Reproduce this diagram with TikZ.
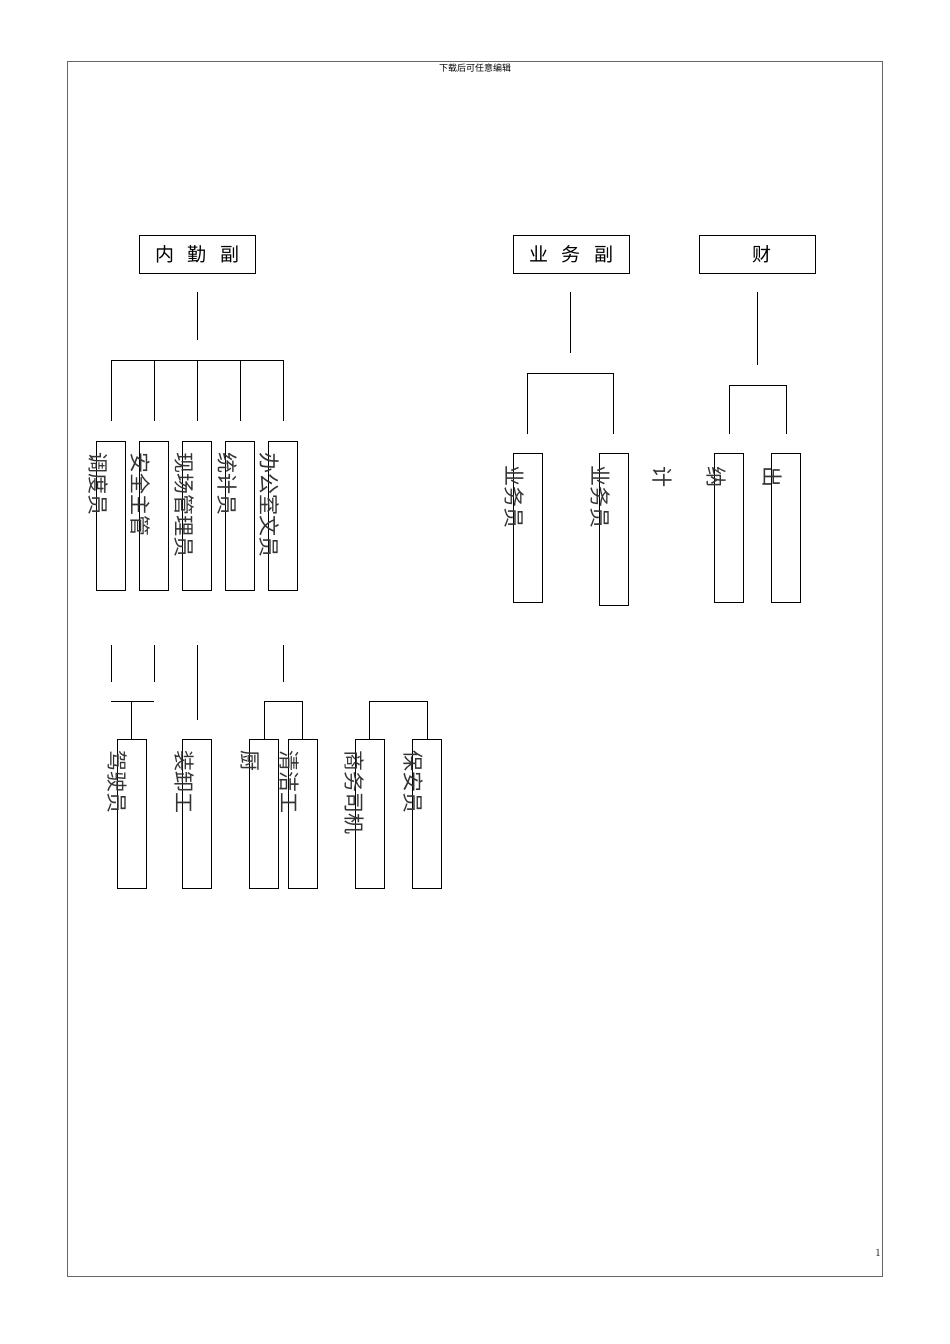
\documentclass[tikz,border=0pt]{standalone}
\usepackage{fontspec}
\newfontfamily\cjk{Noto Sans CJK SC}
\newfontfamily\cjkserif{Noto Sans CJK SC}
\begin{document}
\begin{tikzpicture}[x=1pt,y=-1pt,line width=1pt,
  box/.style={draw,minimum width=29pt,minimum height=149pt,inner sep=0,anchor=north west},
  topbox/.style={draw,minimum width=116pt,minimum height=38pt,inner sep=0,anchor=north west,font=\cjk\fontsize{19}{19}\selectfont},
  vt/.style={rotate=-90,anchor=west,inner sep=0,font=\cjk\fontsize{21}{21}\selectfont\addfontfeature{Color=333333}}]
\useasboundingbox (0,0) rectangle (950,1344);
\draw[line width=0.8pt,gray!80!black] (67,61) rectangle (882,1276);
\node[font=\fontsize{9}{9}\selectfont\cjk] (hdr) at (475,68) {下载后可任意编辑};
\node[font=\fontsize{11}{11}\selectfont] (pg) at (878,1253) {1};
% top boxes
\node[topbox] (nq) at (139,235) {内\hspace{0.7em}勤\hspace{0.7em}副};
\node[topbox] (yw) at (513,235) {业\hspace{0.7em}务\hspace{0.7em}副};
\node[topbox] (cai) at (699,235) {\hspace{0.5em}财};
% left tree
\coordinate (s1) at (197,292);\coordinate (s2) at (197,340);
\draw (s1)--(s2);
\draw (111,360)--(283,360);
\foreach \x in {111,154,197,240,283}{\draw (\x,360)--(\x,421);}
\foreach \x/\n in {96/a,139/b,182/c,225/d,268/e}{\node[box] (\n) at (\x,441) {};}
\node[vt] (ta) at (98,452) {调度员};
\node[vt] (tb) at (141,452) {安全主管};
\node[vt] (tc) at (184,452) {现场管理员};
\node[vt] (td) at (227,452) {统计员};
\node[vt] (te) at (270,452) {办公室文员};
\foreach \x in {111,154,283}{\draw (\x,645)--(\x,682);}
\draw (197,645)--(197,720);
\draw (111,701)--(154,701); \draw (131,701)--(131,739);
\node[box] (f) at (117,739) {};
\node[box] (g) at (182,739) {};
\node[box] (h) at (249,739) {};
\node[box] (i) at (288,739) {};
\node[box] (j) at (355,739) {};
\node[box] (k) at (412,739) {};
\node[vt] (tf) at (117,750) {驾驶员};
\node[vt] (tg) at (184,750) {装卸工};
\node[vt] (th) at (250,750) {厨};
\node[vt] (ti) at (289,750) {清洁工};
\node[vt] (tj) at (355,750) {商务司机};
\node[vt] (tk) at (413,750) {保安员};
\draw (264,739)--(264,701)--(302,701)--(302,739);
\draw (369,739)--(369,701)--(427,701)--(427,739);
% middle tree
\draw (570,292)--(570,353);
\draw (527,434)--(527,373)--(613,373)--(613,434);
\node[box] (l) at (513,453) {};
\node[box,minimum height=152pt] (m) at (599,453) {};
\node[vt] (tl) at (514,465) {业务员};
\node[vt] (tm) at (600,465) {业务员};
\node[vt] (tji) at (662,466) {计};
% right tree
\draw (757,292)--(757,365);
\draw (729,434)--(729,385)--(786,385)--(786,434);
\node[box] (n) at (714,453) {};
\node[box] (o) at (771,453) {};
\node[vt] (tn) at (716,466) {纳};
\node[vt] (to) at (772,466) {出};
\end{tikzpicture}
\end{document}
